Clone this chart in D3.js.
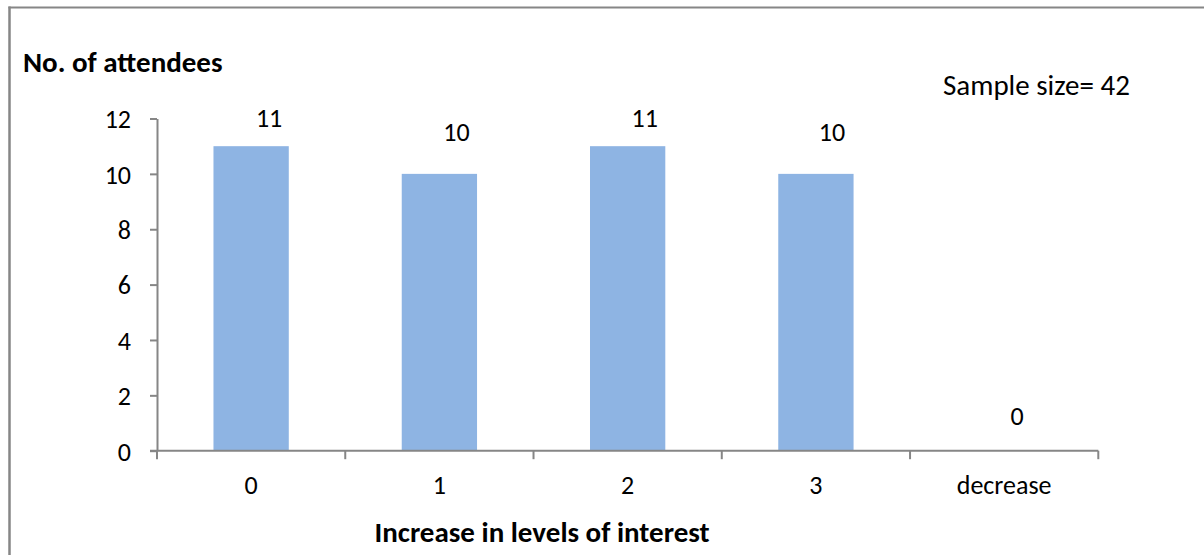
<!DOCTYPE html>
<html>
<head>
<meta charset="utf-8">
<script src="https://cdn.jsdelivr.net/npm/d3@7"></script>
<style>
  html, body { margin: 0; padding: 0; background: #ffffff; }
  svg { display: block; font-family: Carlito, Calibri, Lato, sans-serif; }
</style>
</head>
<body>
<svg id="chart" width="1204" height="555"></svg>
<script>
// Attendees grouped by how much their level of interest increased
const categories = ["0", "1", "2", "3", "decrease"];
const attendees = [11, 10, 11, 10, 0];
const yTicks = [0, 2, 4, 6, 8, 10, 12];
const yTitle = "No. of attendees";
const xTitle = "Increase in levels of interest";
const sampleNote = "Sample size= 42";

// Hand-placed nudges for the value labels (pixels: right, relative to bar top)
const labelNudgeX = [18, 17, 17, 16, 13];
const labelNudgeY = [-28, -41, -28, -41, -34];

const svg = d3.select("#chart");
const axisColor = "#868686";
const barColor = "#8eb4e3";
const labelSize = 26;

// Outer frame: left and top edges
svg.append("line").attr("x1", 9.5).attr("x2", 9.5).attr("y1", 6.5).attr("y2", 555)
  .attr("stroke", axisColor).attr("stroke-width", 2.5);
svg.append("line").attr("x1", 8.5).attr("x2", 1204).attr("y1", 7.5).attr("y2", 7.5)
  .attr("stroke", axisColor).attr("stroke-width", 2);

const plot = { left: 157, right: 1098.3, top: 118.5, bottom: 450.7 };

const x = d3.scaleBand()
  .domain(categories)
  .range([plot.left, plot.right])
  .paddingInner(0.6)
  .paddingOuter(0.3);

const y = d3.scaleLinear()
  .domain([0, 12])
  .range([plot.bottom, plot.top]);

// Bars
svg.append("g").selectAll("rect")
  .data(categories)
  .join("rect")
  .attr("x", d => x(d))
  .attr("width", x.bandwidth())
  .attr("y", (d, i) => y(attendees[i]))
  .attr("height", (d, i) => y(0) - y(attendees[i]))
  .attr("fill", barColor);

// Y axis
const yAxis = svg.append("g")
  .attr("transform", `translate(${plot.left},0)`)
  .call(d3.axisLeft(y).tickValues(yTicks).tickSize(7).tickPadding(19).tickSizeOuter(0))
  .attr("font-family", null)
  .attr("font-size", null);
yAxis.select(".domain").attr("stroke", axisColor).attr("stroke-width", 2);
yAxis.selectAll(".tick line").attr("stroke", axisColor).attr("stroke-width", 2);
yAxis.selectAll(".tick text")
  .attr("fill", "#000").attr("font-size", labelSize).attr("dy", "0.36em");

// X axis: line along zero with boundary ticks between categories
const xAxis = svg.append("g");
xAxis.append("line")
  .attr("x1", plot.left - 7).attr("x2", plot.right)
  .attr("y1", y(0)).attr("y2", y(0))
  .attr("stroke", axisColor).attr("stroke-width", 2);
const boundaries = categories.map(d => x(d) - x.step() * x.paddingOuter())
  .concat([plot.right]);
xAxis.selectAll("line.bound")
  .data(boundaries)
  .join("line")
  .attr("class", "bound")
  .attr("x1", d => d).attr("x2", d => d)
  .attr("y1", y(0)).attr("y2", y(0) + 8.5)
  .attr("stroke", axisColor).attr("stroke-width", 2);
xAxis.selectAll("text")
  .data(categories)
  .join("text")
  .attr("x", d => x(d) + x.bandwidth() / 2)
  .attr("y", 494)
  .attr("text-anchor", "middle")
  .attr("font-size", labelSize)
  .attr("fill", "#000")
  .text(d => d);

// Value labels
svg.append("g").selectAll("text")
  .data(categories)
  .join("text")
  .attr("x", (d, i) => x(d) + x.bandwidth() / 2 + labelNudgeX[i])
  .attr("y", (d, i) => y(attendees[i]) + labelNudgeY[i])
  .attr("dy", "0.33em")
  .attr("text-anchor", "middle")
  .attr("font-size", labelSize)
  .attr("fill", "#000")
  .text((d, i) => attendees[i]);

// Titles and note
svg.append("text")
  .attr("x", 23).attr("y", 72)
  .attr("font-size", 29).attr("font-weight", "bold").attr("fill", "#000")
  .text(yTitle);

svg.append("text")
  .attr("x", 542).attr("y", 542)
  .attr("text-anchor", "middle")
  .attr("font-size", 29).attr("font-weight", "bold").attr("fill", "#000")
  .text(xTitle);

svg.append("text")
  .attr("x", 943).attr("y", 95)
  .attr("font-size", 29).attr("fill", "#000")
  .text(sampleNote);
</script>
</body>
</html>
